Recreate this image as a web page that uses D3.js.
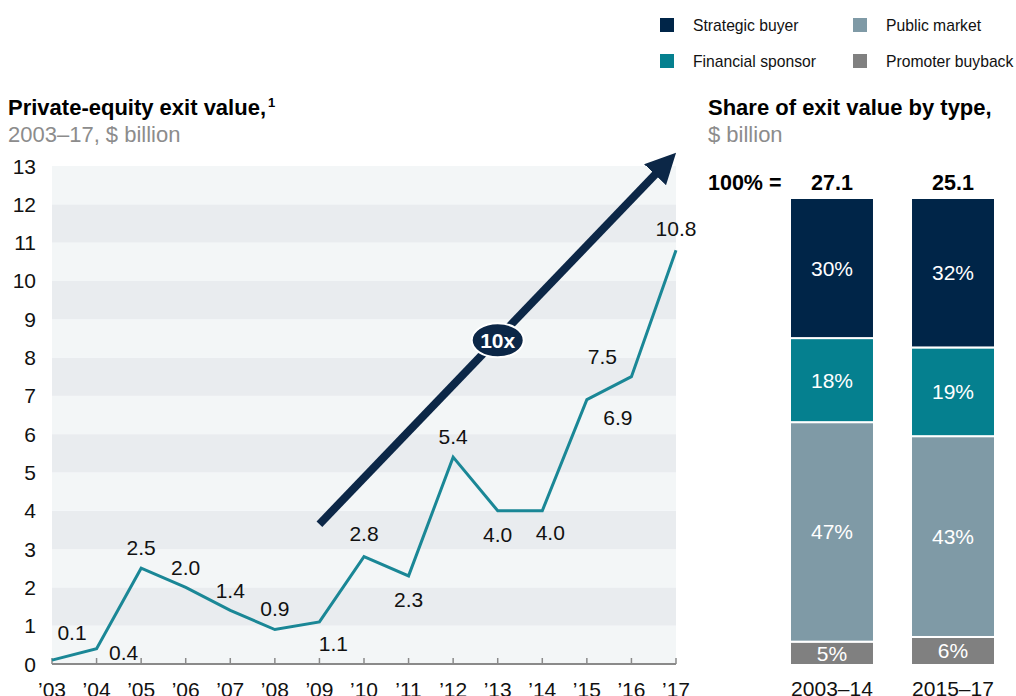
<!DOCTYPE html>
<html>
<head>
<meta charset="utf-8">
<script src="https://cdn.jsdelivr.net/npm/d3@7"></script>
<style>
  body { margin: 0; background: #fff; }
  svg { display: block; font-family: "Liberation Sans", Arial, sans-serif; }
</style>
</head>
<body>
<svg id="chart" width="1016" height="696"></svg>
<script>
// line chart data
const years = [2003, 2004, 2005, 2006, 2007, 2008, 2009, 2010, 2011, 2012, 2013, 2014, 2015, 2016, 2017];
const exitValues = [0.1, 0.4, 2.5, 2.0, 1.4, 0.9, 1.1, 2.8, 2.3, 5.4, 4.0, 4.0, 6.9, 7.5, 10.8];
const valueLabels = ["0.1", "0.4", "2.5", "2.0", "1.4", "0.9", "1.1", "2.8", "2.3", "5.4", "4.0", "4.0", "6.9", "7.5", "10.8"];
const yTicks = [0, 1, 2, 3, 4, 5, 6, 7, 8, 9, 10, 11, 12, 13];

// stacked bar data
const periods = ["2003–14", "2015–17"];
const totals = ["27.1", "25.1"];
const types = ["Strategic buyer", "Financial sponsor", "Public market", "Promoter buyback"];
const strategicShare = [30, 32];
const financialShare = [18, 19];
const publicShare = [47, 43];
const promoterShare = [5, 6];

const COLORS = {
  "Strategic buyer": "#002548",
  "Financial sponsor": "#05808f",
  "Public market": "#7f9aa6",
  "Promoter buyback": "#808080",
};
const LINE = "#1a8796";
const NAVY = "#0c2747";
const FS = 21;

const svg = d3.select("#chart");

// ---------- left: line chart ----------
const x = d3.scaleLinear().domain([2003, 2017]).range([52, 676]);
const y = d3.scaleLinear().domain([0, 13]).range([664, 166]);

const bands = svg.append("g");
yTicks.slice(0, -1).forEach((t, i) => {
  bands.append("rect")
    .attr("x", x(2003))
    .attr("y", y(t + 1))
    .attr("width", x(2017) - x(2003))
    .attr("height", y(t) - y(t + 1))
    .attr("fill", i % 2 === 0 ? "#f3f6f7" : "#e9ecef");
});

// y labels
svg.append("g").selectAll("text").data(yTicks).join("text")
  .attr("x", 36)
  .attr("y", (d) => y(d) + 7.5)
  .attr("text-anchor", "end")
  .attr("font-size", FS)
  .attr("fill", "#111")
  .text((d) => d);

// x axis
const xAxis = svg.append("g").attr("transform", `translate(0,${y(0)})`);
xAxis.append("line")
  .attr("x1", x(2003)).attr("x2", x(2017))
  .attr("stroke", "#8a8a8a").attr("stroke-width", 2);
xAxis.selectAll(".tick").data(years).join("line")
  .attr("x1", (d) => x(d)).attr("x2", (d) => x(d))
  .attr("y1", 0).attr("y2", -6)
  .attr("stroke", "#8a8a8a").attr("stroke-width", 1.5);
xAxis.selectAll("text").data(years).join("text")
  .attr("x", (d) => x(d))
  .attr("y", 33)
  .attr("text-anchor", "middle")
  .attr("font-size", FS)
  .attr("fill", "#111")
  .text((d) => "’" + String(d).slice(2));

// arrow annotation (in data units)
const arrowFrom = [2009, 3.65];
const arrowTo = [2016.97, 13.3];
svg.append("defs").append("marker")
  .attr("id", "head")
  .attr("viewBox", "0 0 10 10")
  .attr("refX", 6).attr("refY", 5)
  .attr("markerWidth", 3.8).attr("markerHeight", 3.8)
  .attr("orient", "auto")
  .append("path").attr("d", "M0,0 L10,5 L0,10 z").attr("fill", NAVY);
svg.append("line")
  .attr("x1", x(arrowFrom[0])).attr("y1", y(arrowFrom[1]))
  .attr("x2", x(arrowTo[0]) - 7).attr("y2", y(arrowTo[1]) + 7)
  .attr("stroke", NAVY).attr("stroke-width", 8)
  .attr("marker-end", "url(#head)");

const badge = [2013, 8.45];
svg.append("ellipse")
  .attr("cx", x(badge[0])).attr("cy", y(badge[1]))
  .attr("rx", 26).attr("ry", 17)
  .attr("fill", NAVY).attr("stroke", "#fff").attr("stroke-width", 2);
svg.append("text")
  .attr("x", x(badge[0])).attr("y", y(badge[1]) + 7.5)
  .attr("text-anchor", "middle")
  .attr("font-size", FS).attr("font-weight", "bold")
  .attr("fill", "#fff").text("10x");

// line
const pts = years.map((yr, i) => [yr, exitValues[i]]);
svg.append("path")
  .datum(pts)
  .attr("fill", "none")
  .attr("stroke", LINE)
  .attr("stroke-width", 3)
  .attr("stroke-linejoin", "miter")
  .attr("d", d3.line().x((d) => x(d[0])).y((d) => y(d[1])));

// label offsets in px relative to each point
const labelDx = [20, 27, 0, 0, 0, 0, 14, 0, 0, 0, 0, 8, 31, -29, 0];
const labelDy = [-28, 4, -21, -20, -20, -21, 22, -23, 24, -21, 24, 22, 18, -20, -22];
svg.append("g").selectAll("text").data(pts).join("text")
  .attr("x", (d, i) => x(d[0]) + labelDx[i])
  .attr("y", (d, i) => y(d[1]) + labelDy[i] + 7.5)
  .attr("text-anchor", "middle")
  .attr("font-size", FS)
  .attr("fill", "#111")
  .text((d, i) => valueLabels[i]);

// titles
const t1 = svg.append("text").attr("x", 8).attr("y", 115)
  .attr("font-size", 22).attr("font-weight", "bold").attr("fill", "#000");
t1.append("tspan").text("Private-equity exit value,");
t1.append("tspan").attr("font-size", 13).attr("dy", -8).attr("dx", 2).text("1");
svg.append("text").attr("x", 8).attr("y", 142)
  .attr("font-size", 22).attr("fill", "#8c8c8c").text("2003–17, $ billion");

svg.append("text").attr("x", 708).attr("y", 115)
  .attr("font-size", 22).attr("font-weight", "bold").attr("fill", "#000")
  .text("Share of exit value by type,");
svg.append("text").attr("x", 708).attr("y", 142)
  .attr("font-size", 22).attr("fill", "#8c8c8c").text("$ billion");

// ---------- legend ----------
const legendPos = [[660, 25], [660, 61], [853, 25], [853, 61]];
types.forEach((name, i) => {
  const [lx, ly] = legendPos[i < 2 ? i : i];
  svg.append("rect").attr("x", lx).attr("y", ly - 7).attr("width", 14).attr("height", 14)
    .attr("fill", COLORS[name]);
  svg.append("text").attr("x", lx + 33).attr("y", ly + 5.5)
    .attr("font-size", 15.7).attr("fill", "#111").text(name);
});

// ---------- right: stacked bars ----------
const xb = d3.scaleBand().domain(periods).range([769, 1016]).paddingInner(0.306).paddingOuter(0.1736);
const yb = d3.scaleLinear().domain([0, 100]).range([665, 198]);

const rows = periods.map((p, i) => ({
  period: p,
  "Strategic buyer": strategicShare[i],
  "Financial sponsor": financialShare[i],
  "Public market": publicShare[i],
  "Promoter buyback": promoterShare[i],
}));
const stack = d3.stack().keys(types.slice().reverse());
const series = stack(rows);

const segs = svg.append("g");
series.forEach((s) => {
  s.forEach((d) => {
    const top = yb(d[1]);
    const bot = yb(d[0]);
    segs.append("rect")
      .attr("x", xb(d.data.period))
      .attr("y", top)
      .attr("width", xb.bandwidth())
      .attr("height", bot - top)
      .attr("fill", COLORS[s.key])
      .attr("stroke", "#fff")
      .attr("stroke-width", 2);
    segs.append("text")
      .attr("x", xb(d.data.period) + xb.bandwidth() / 2)
      .attr("y", (top + bot) / 2 + 7.5)
      .attr("text-anchor", "middle")
      .attr("font-size", FS)
      .attr("fill", "#fff")
      .text(d.data[s.key] + "%");
  });
});

svg.append("text").attr("x", 708).attr("y", 190)
  .attr("font-size", 21.5).attr("font-weight", "bold").attr("fill", "#000").text("100% =");
svg.append("g").selectAll("text").data(periods).join("text")
  .attr("x", (d) => xb(d) + xb.bandwidth() / 2)
  .attr("y", 190)
  .attr("text-anchor", "middle")
  .attr("font-size", 21.5).attr("font-weight", "bold").attr("fill", "#000")
  .text((d, i) => totals[i]);
svg.append("g").selectAll("text").data(periods).join("text")
  .attr("x", (d) => xb(d) + xb.bandwidth() / 2)
  .attr("y", 696)
  .attr("text-anchor", "middle")
  .attr("font-size", FS).attr("fill", "#111")
  .text((d) => d);
</script>
</body>
</html>
